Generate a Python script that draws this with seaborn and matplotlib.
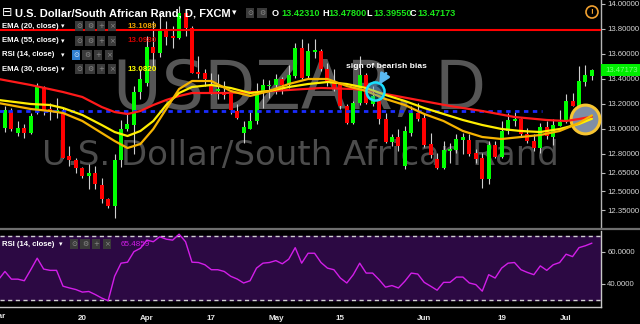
import numpy as np
import pandas as pd
import matplotlib
matplotlib.use("Agg")
import matplotlib.pyplot as plt
import seaborn as sns
from matplotlib.patches import Rectangle
from matplotlib.lines import Line2D

# ---------------- data ----------------
dates = pd.bdate_range("2017-03-01", "2017-07-07")  # 93 daily bars

opens = [13.150, 13.010, 13.136, 12.970, 13.006, 12.970, 13.136, 13.336, 13.158, 13.136,
         13.136, 12.784, 12.752, 12.690, 12.624, 12.650, 12.552, 12.442, 12.384, 12.752,
         13.002, 13.032, 13.296, 13.368, 13.656, 13.608, 13.800, 13.738, 13.728, 13.930,
         13.810, 13.458, 13.446, 13.358, 13.304, 13.296, 13.278, 13.144, 12.970, 13.002,
         13.064, 13.286, 13.340, 13.350, 13.400, 13.350, 13.424, 13.650, 13.424, 13.620,
         13.624, 13.478, 13.370, 13.358, 13.184, 13.050, 13.206, 13.432, 13.200, 13.224,
         13.078, 12.896, 12.938, 12.704, 12.970, 13.126, 13.090, 12.878, 12.762, 12.690,
         12.824, 12.832, 12.912, 12.912, 12.806, 12.770, 12.602, 12.870, 12.778, 12.984,
         13.064, 13.078, 12.958, 12.904, 12.850, 13.016, 12.938, 13.024, 13.056, 13.224,
         13.184, 13.376, 13.4231]
highs = [13.160, 13.184, 13.170, 13.064, 13.040, 13.130, 13.370, 13.344, 13.210, 13.250,
         13.170, 12.864, 12.770, 12.700, 12.718, 12.704, 12.610, 12.450, 12.798, 13.070,
         13.130, 13.344, 13.478, 13.740, 13.860, 13.930, 13.860, 13.824, 13.984, 13.940,
         13.820, 13.584, 13.480, 13.450, 13.440, 13.384, 13.280, 13.200, 13.064, 13.144,
         13.370, 13.400, 13.392, 13.438, 13.416, 13.510, 13.690, 13.720, 13.690, 13.720,
         13.640, 13.530, 13.480, 13.370, 13.200, 13.224, 13.584, 13.450, 13.340, 13.240,
         13.130, 12.960, 13.000, 13.024, 13.184, 13.210, 13.120, 12.970, 12.810, 12.904,
         12.890, 12.960, 12.970, 12.960, 12.840, 12.810, 12.904, 12.904, 13.064, 13.130,
         13.136, 13.090, 13.010, 12.957, 13.050, 13.064, 13.078, 13.152, 13.277, 13.290,
         13.504, 13.510, 13.478]
lows = [12.990, 12.976, 12.980, 12.944, 12.930, 12.957, 13.118, 13.110, 13.070, 13.090,
        12.765, 12.704, 12.650, 12.610, 12.518, 12.518, 12.410, 12.370, 12.290, 12.700,
        12.984, 12.798, 13.238, 13.340, 13.500, 13.576, 13.672, 13.650, 13.720, 13.744,
        13.448, 13.410, 13.344, 13.278, 13.240, 13.240, 13.120, 13.080, 12.890, 13.000,
        13.040, 13.170, 13.250, 13.278, 13.280, 13.330, 13.410, 13.400, 13.410, 13.570,
        13.460, 13.344, 13.300, 13.160, 13.038, 13.040, 13.190, 13.200, 13.180, 13.040,
        12.890, 12.864, 12.824, 12.680, 12.944, 13.064, 12.860, 12.770, 12.678, 12.678,
        12.730, 12.810, 12.800, 12.784, 12.730, 12.530, 12.557, 12.770, 12.770, 12.957,
        13.024, 12.944, 12.890, 12.824, 12.810, 12.922, 12.870, 13.020, 13.050, 13.180,
        13.180, 13.344, 13.3955]
closes = [13.010, 13.150, 13.002, 13.010, 12.966, 13.104, 13.336, 13.150, 13.142, 13.150,
          12.770, 12.752, 12.690, 12.624, 12.650, 12.558, 12.438, 12.384, 12.752, 13.002,
          13.038, 13.296, 13.398, 13.656, 13.608, 13.792, 13.738, 13.728, 13.928, 13.810,
          13.450, 13.438, 13.398, 13.286, 13.318, 13.270, 13.152, 13.090, 13.016, 13.064,
          13.286, 13.350, 13.350, 13.398, 13.350, 13.430, 13.650, 13.410, 13.624, 13.625,
          13.478, 13.384, 13.330, 13.184, 13.050, 13.206, 13.432, 13.210, 13.264, 13.078,
          12.896, 12.938, 12.864, 12.984, 13.126, 13.082, 12.870, 12.790, 12.690, 12.832,
          12.842, 12.922, 12.936, 12.798, 12.762, 12.602, 12.870, 12.778, 12.984, 13.072,
          13.078, 12.958, 12.904, 12.850, 13.016, 12.944, 13.030, 13.056, 13.224, 13.184,
          13.384, 13.430, 13.47173]

# EMA lines read at sampled bars
ema55_idx = [0, 5, 10, 13, 16, 18, 20, 22, 24, 26, 28, 30, 35, 40, 45, 50, 55, 58, 60,
             65, 70, 75, 80, 85, 88, 90, 92]
ema55_val = [13.400, 13.352, 13.296, 13.256, 13.176, 13.136, 13.120, 13.144, 13.192, 13.232,
             13.264, 13.288, 13.288, 13.296, 13.312, 13.328, 13.320, 13.304, 13.280,
             13.232, 13.184, 13.144, 13.096, 13.072, 13.064, 13.080, 13.098]
ema_idx = [0, 5, 8, 10, 13, 16, 18, 20, 22, 24, 26, 28, 30, 33, 36, 39, 42, 45, 48, 51,
           54, 57, 60, 63, 66, 69, 72, 75, 78, 81, 84, 87, 90, 92]
ema30_val = [13.232, 13.200, 13.192, 13.168, 13.112, 13.032, 12.976, 12.944, 12.984, 13.064,
             13.192, 13.288, 13.336, 13.352, 13.328, 13.288, 13.304, 13.336, 13.360, 13.376,
             13.360, 13.328, 13.272, 13.224, 13.168, 13.120, 13.072, 13.032, 13.000, 12.984,
             12.976, 13.000, 13.040, 13.082]
ema20_val = [13.208, 13.160, 13.144, 13.128, 13.064, 12.968, 12.904, 12.848, 12.880, 13.000,
             13.160, 13.320, 13.384, 13.384, 13.304, 13.264, 13.304, 13.360, 13.400, 13.400,
             13.344, 13.304, 13.240, 13.192, 13.120, 13.064, 12.984, 12.936, 12.920, 12.936,
             12.952, 12.984, 13.048, 13.109]

rsi = [42.7, 47.8, 43.0, 43.0, 42.0, 48.9, 56.1, 49.3, 48.5, 48.5,
       38.6, 37.5, 36.5, 34.9, 35.3, 33.4, 31.2, 29.5, 44.8, 53.0,
       53.6, 60.2, 62.3, 67.4, 66.4, 69.5, 68.0, 67.4, 71.1, 66.4,
       53.6, 53.4, 52.0, 48.9, 48.9, 47.8, 44.8, 43.1, 40.6, 42.0,
       49.9, 53.0, 53.4, 54.6, 52.6, 55.5, 62.7, 53.0, 59.2, 59.2,
       53.4, 49.9, 48.9, 43.7, 40.6, 45.8, 53.0, 46.8, 46.8, 42.7,
       38.0, 39.0, 37.5, 41.7, 46.8, 46.2, 41.0, 38.6, 36.1, 41.0,
       41.0, 44.3, 44.3, 40.6, 39.6, 35.5, 45.8, 43.7, 49.9, 53.0,
       53.4, 48.9, 47.2, 45.8, 51.3, 48.5, 52.0, 53.4, 58.6, 57.1,
       62.7, 63.9, 65.5]

support_level = 13.145     # blue dashed line
resistance_level = 13.79   # red horizontal line
price_ticks = [14.0, 13.8, 13.6, 13.4, 13.2, 13.0, 12.8, 12.65, 12.5, 12.35]
xtick_idx = [13, 23, 33, 43, 53, 66, 78, 88]
xtick_lab = ["20", "Apr", "17", "May", "15", "Jun", "19", "Jul"]

# ---------------- style ----------------
sns.set_theme(style="dark")
FONT = ["Liberation Sans", "DejaVu Sans"]
plt.rcParams["font.family"] = FONT

W, H = 640, 324
def fx(px): return px / W
def fy(py): return 1 - py / H

fig = plt.figure(figsize=(6.4, 3.24), dpi=100, facecolor="black")
ax = fig.add_axes([0, fy(228), fx(601), fy(0) - fy(228)], facecolor="black")
rax = fig.add_axes([0, fy(307), fx(601), fy(231) - fy(307)], facecolor="black")

idx = np.arange(len(closes))
o = np.array(opens); c = np.array(closes)
hi = np.array(highs); lo = np.array(lows)

# ---------------- main panel ----------------
ax.set_xlim(0.233, 93.41)
ax.set_ylim(12.208, 14.032)

# watermark
ax.text(fx(300), fy(90), "USDZAR, D", transform=fig.transFigure, fontsize=48,
        color="#565656", ha="center", va="center", family="DejaVu Sans", zorder=0.5)
ax.text(fx(300), fy(156), "U.S. Dollar/South African Rand", transform=fig.transFigure,
        fontsize=24.5, color="#4c4c4c", ha="center", va="center", family="DejaVu Sans",
        zorder=0.5)

ax.vlines(idx, lo, hi, color="#cfcfcf", lw=0.8, zorder=3)
up = c >= o
ax.bar(idx, np.maximum(np.abs(c - o), 0.012), bottom=np.minimum(o, c), width=0.62,
       color=np.where(up, "#00ff00", "#ff0000"), linewidth=0, zorder=4)

# annotation circle (end) below lines
ax.scatter([90.9], [13.08], s=430, facecolor="#7f8ea6", edgecolor="#f7c531", lw=2.2,
           zorder=4.5)

ax.hlines(support_level, 0, 84.3, color="#1a2cff", lw=2, linestyles=(0, (1.6, 1.6)),
          zorder=5)
ax.axhline(resistance_level, color="#ff0000", lw=1.5, zorder=5)

sns.lineplot(x=ema55_idx, y=ema55_val, ax=ax, color="#ff1a1a", lw=1.6, zorder=6)
sns.lineplot(x=ema_idx, y=ema30_val, ax=ax, color="#ffee00", lw=1.6, zorder=6)
sns.lineplot(x=ema_idx, y=ema20_val, ax=ax, color="#f6b400", lw=1.6, zorder=6)

# bearish bias annotation
ax.scatter([58.3], [13.304], s=170, facecolor=(0.2, 0.6, 0.9, 0.35), edgecolor="#19e0ff",
           lw=1.8, zorder=7)
ax.annotate("", xy=(58.8, 13.335), xytext=(60.3, 13.465),
            arrowprops=dict(arrowstyle="-|>,head_width=0.25,head_length=0.5",
                            color="#59b8f0", lw=2), zorder=7)
ax.text(60.1, 13.50, "sign of bearish bias", color="white", fontsize=6.1,
        fontweight="bold", ha="center", va="center", zorder=8)

ax.yaxis.tick_right()
ax.set_yticks(price_ticks)
ax.set_yticklabels([f"{v:.5f}" for v in price_ticks])
ax.tick_params(axis="y", colors="#bdbdbd", labelcolor="#d6d6d6", labelsize=5.6,
               length=3, width=0.8, pad=1.5, direction="out")
ax.set_xticks([])
ax.set_xlabel(""); ax.set_ylabel("")
ax.grid(False)
for s in ["left", "top", "bottom"]:
    ax.spines[s].set_visible(False)
ax.spines["right"].set_color("#b5b5b5"); ax.spines["right"].set_linewidth(1)

# ---------------- RSI panel ----------------
rax.set_xlim(0.233, 93.41)
rax.set_ylim(25.6, 73.1)
rax.axhspan(30, 70, color="#2c0943", zorder=0)
rax.axhline(70, color="#d0d0d0", lw=1, ls=(0, (3, 2.5)), zorder=1)
rax.axhline(30, color="#d0d0d0", lw=1, ls=(0, (3, 2.5)), zorder=1)
sns.lineplot(x=idx, y=rsi, ax=rax, color="#d21ee8", lw=1, zorder=3)
rax.yaxis.tick_right()
rax.set_yticks([60, 40])
rax.set_yticklabels(["60.0000", "40.0000"])
rax.tick_params(axis="y", colors="#bdbdbd", labelcolor="#d6d6d6", labelsize=5.6,
                length=3, width=0.8, pad=1.5)
rax.set_xticks(xtick_idx)
rax.set_xticklabels(xtick_lab, fontweight="bold")
rax.tick_params(axis="x", colors="#bdbdbd", labelcolor="#e6e6e6", labelsize=5.8,
                length=3, width=0.8, pad=3)
rax.set_xlabel(""); rax.set_ylabel("")
rax.grid(False)
rax.spines["left"].set_visible(False); rax.spines["top"].set_visible(False)
for s in ["right", "bottom"]:
    rax.spines[s].set_color("#c8c8c8"); rax.spines[s].set_linewidth(1)

fig.text(fx(-1.5), fy(316), "Mar", color="#e6e6e6", fontsize=5.8, fontweight="bold",
         ha="center", va="center")

# separator between panels
fig.add_artist(Line2D([0, 1], [fy(229), fy(229)], color="#6e6e6e", lw=1.6,
                      transform=fig.transFigure))

# ---------------- header / legends ----------------
def icon(xp, yp, sym, fc="#3a3a3a", col="#8c8c8c"):
    fig.text(fx(xp), fy(yp), sym, fontsize=5, color=col, ha="center", va="center",
             family="DejaVu Sans",
             bbox=dict(boxstyle="square,pad=0.22", fc=fc, ec="none"))

fig.text(fx(2), fy(13), "\u229f", color="white", fontsize=9, va="center",
         family="DejaVu Sans")
fig.text(fx(15), fy(13), "U.S. Dollar/South African Rand, D, FXCM", color="white",
         fontsize=8, fontweight="bold", va="center")
fig.text(fx(232), fy(13), "\u25be", color="white", fontsize=6.5, va="center",
         family="DejaVu Sans")
icon(250, 13, "\u2299"); icon(262, 13, "\u2699")
hdr = [(272, "O", "white"), (281, "13.42310", "#19e619"), (322, "H", "white"),
       (328, "13.47800", "#19e619"), (366, "L", "white"), (373, "13.39550", "#19e619"),
       (410, "C", "white"), (417, "13.47173", "#19e619")]
for xp, t, col in hdr:
    fig.text(fx(xp), fy(13), t, color=col, fontsize=6.6, fontweight="bold", va="center")

rows = [(26, "EMA (20, close)", "13.1089", "#f0a500"),
        (41, "EMA (55, close)", "13.0980", "#d40000"),
        (55, "RSI (14, close)", None, None),
        (69, "EMA (30, close)", "13.0820", "#ffff00")]
for yp, lab, val, col in rows:
    fig.text(fx(2), fy(yp), lab, color="white", fontsize=5.6, fontweight="bold",
             va="center")
    fig.text(fx(61), fy(yp), "\u25be", color="white", fontsize=5, va="center",
             family="DejaVu Sans")
    if val is None:
        icon(76, yp, "\u2299", fc="#2f7fd0", col="#cfe6ff")
        icon(87, yp, "\u2699"); icon(98, yp, "+"); icon(109, yp, "\u00d7")
    else:
        icon(79, yp, "\u2299")
        icon(90, yp, "\u2699"); icon(101, yp, "+"); icon(112, yp, "\u00d7")
        fig.text(fx(127), fy(yp), val, color=col, fontsize=5.8, fontweight="bold",
                 va="center")

fig.text(fx(2), fy(244), "RSI (14, close)", color="white", fontsize=5.6,
         fontweight="bold", va="center")
fig.text(fx(59), fy(244), "\u25be", color="white", fontsize=5, va="center",
         family="DejaVu Sans")
icon(74, 244, "\u2299"); icon(85, 244, "\u2699"); icon(96, 244, "+"); icon(107, 244, "\u00d7")
fig.text(fx(121), fy(244), "65.4859", color="#d21ee8", fontsize=5.8, va="center")

# price label on the right axis
fig.add_artist(Rectangle((fx(601), fy(76)), fx(39), 12 / H, transform=fig.transFigure,
                         facecolor="#00ee00", edgecolor="none"))
fig.text(fx(605), fy(70), "13.47173", color="#7dff7d", fontsize=5.6, va="center")

# alert icon
fig.text(fx(592), fy(12), "!", color="#f0a030", fontsize=6, fontweight="bold",
         ha="center", va="center",
         bbox=dict(boxstyle="circle,pad=0.3", fc="none", ec="#f0a030", lw=1.2))

fig.savefig("out.png", dpi=100, facecolor="black")
